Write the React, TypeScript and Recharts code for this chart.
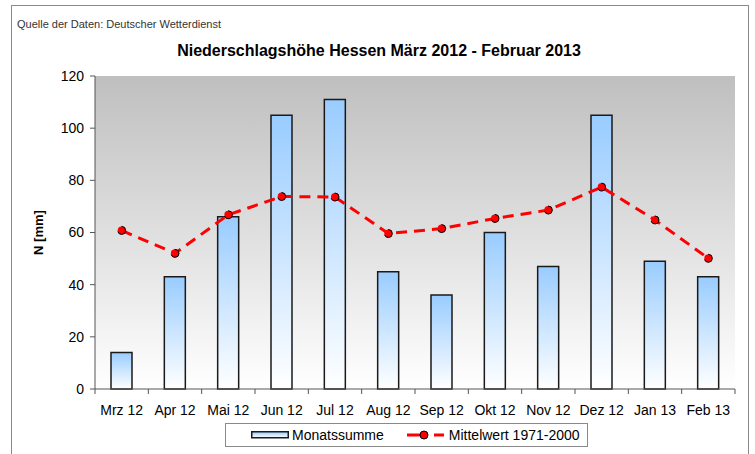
import React from "react";
import { ComposedChart, Bar, Line, XAxis, YAxis, CartesianGrid, Label } from "recharts";

const MONTHS = ["Mrz 12", "Apr 12", "Mai 12", "Jun 12", "Jul 12", "Aug 12", "Sep 12", "Okt 12", "Nov 12", "Dez 12", "Jan 13", "Feb 13"];
const MONATSSUMME = [14, 43, 66, 105, 111, 45, 36, 60, 47, 105, 49, 43];
const MITTELWERT = [60.8, 52, 66.8, 73.8, 73.6, 59.6, 61.5, 65.4, 68.6, 77.4, 64.8, 50.1];
const Y_TICKS = [0, 20, 40, 60, 80, 100, 120];

const data = MONTHS.map((m, i) => ({ month: m, summe: MONATSSUMME[i], mittel: MITTELWERT[i] }));

const FONT = "'Liberation Sans', Arial, sans-serif";

export default function App() {
  return (
    <div style={{ position: "absolute", left: 0, top: 0, width: 755, height: 454, overflow: "hidden", background: "#fff", fontFamily: FONT }}>
      {/* outer frame */}
      <div style={{ position: "absolute", left: 11, top: 5, width: 736, height: 470, border: "1px solid #8a8a8a" }} />
      <div style={{ position: "absolute", left: 17, top: 18, fontSize: 11, color: "#333" }}>Quelle der Daten: Deutscher Wetterdienst</div>
      <div style={{ position: "absolute", left: 0, width: 758, top: 42, textAlign: "center", fontSize: 16, fontWeight: "bold", color: "#000" }}>
        Niederschlagshöhe Hessen März 2012 - Februar 2013
      </div>
      <ComposedChart width={755} height={454} data={data} margin={{ top: 76, right: 20, left: 50, bottom: 35 }} style={{ position: "absolute", left: 0, top: 0 }}>
        <defs>
          <linearGradient id="plotBg" x1="0" y1="0" x2="0" y2="1">
            <stop offset="0%" stopColor="#bfbfbf" />
            <stop offset="100%" stopColor="#ffffff" />
          </linearGradient>
          <linearGradient id="barFill" x1="0" y1="0" x2="0" y2="1">
            <stop offset="0%" stopColor="#99ccff" />
            <stop offset="100%" stopColor="#ffffff" />
          </linearGradient>
        </defs>
        <CartesianGrid horizontal={false} vertical={false} fill="url(#plotBg)" />
        <XAxis xAxisId="top" orientation="top" dataKey="month" height={0} tick={false} tickLine={false} axisLine={{ stroke: "#b0b0b0" }} />
        <YAxis yAxisId="right" orientation="right" width={0} tick={false} tickLine={false} axisLine={{ stroke: "#b0b0b0" }} />
        <XAxis
          dataKey="month"
          height={30}
          interval={0}
          tick={{ fill: "#000", fontSize: 14, fontFamily: FONT }}
          tickLine={false}
          axisLine={{ stroke: "#555" }}
          tickMargin={10}
        />
        <YAxis
          domain={[0, 120]}
          ticks={Y_TICKS}
          width={45}
          interval={0}
          tick={{ fill: "#000", fontSize: 14, fontFamily: FONT }}
          tickLine={{ stroke: "#555" }}
          tickSize={5}
          tickMargin={6}
          axisLine={{ stroke: "#555" }}
        >
          <Label value="N [mm]" angle={-90} position="insideLeft" offset={-12} style={{ fontWeight: "bold", fontSize: 13, fill: "#000", fontFamily: FONT, textAnchor: "middle" }} />
        </YAxis>
        <Bar dataKey="summe" barSize={21} fill="url(#barFill)" stroke="#1a1a1a" strokeWidth={1.5} isAnimationActive={false} />
        <Line
          dataKey="mittel"
          stroke="#ff0000"
          strokeWidth={3}
          strokeDasharray="11 7"
          dot={{ r: 4, fill: "#ff0000", stroke: "#000", strokeWidth: 1 }}
          isAnimationActive={false}
        />
      </ComposedChart>
      {/* category separator ticks */}
      <svg width={755} height={454} style={{ position: "absolute", left: 0, top: 0, pointerEvents: "none" }}>
        {MONTHS.map((_, i) => {
          const x = 95 + ((735 - 95) / MONTHS.length) * (i + 1);
          return <line key={i} x1={x} x2={x} y1={389} y2={394} stroke="#555" />;
        })}
        <line x1={95} x2={95} y1={389} y2={394} stroke="#555" />
      </svg>
      {/* legend */}
      <div style={{ position: "absolute", left: 225, top: 423, width: 361, height: 22, border: "1px solid #8a8a8a", display: "flex", alignItems: "center", fontSize: 14, color: "#000" }}>
        <svg width={38} height={8} style={{ marginLeft: 25 }}>
          <defs>
            <linearGradient id="legBar" x1="0" y1="0" x2="0" y2="1">
              <stop offset="0%" stopColor="#99ccff" />
              <stop offset="100%" stopColor="#ffffff" />
            </linearGradient>
          </defs>
          <rect x={0.75} y={0.75} width={36.5} height={6} fill="url(#legBar)" stroke="#1a1a1a" strokeWidth={1.5} />
        </svg>
        <span style={{ marginLeft: 3 }}>Monatssumme</span>
        <svg width={40} height={10} style={{ marginLeft: 23 }}>
          <line x1={0} x2={20} y1={5} y2={5} stroke="#ff0000" strokeWidth={3} />
          <line x1={27} x2={37} y1={5} y2={5} stroke="#ff0000" strokeWidth={3} />
          <circle cx={17} cy={5} r={4} fill="#ff0000" stroke="#000" strokeWidth={1} />
        </svg>
        <span style={{ marginLeft: 2 }}>Mittelwert 1971-2000</span>
      </div>
    </div>
  );
}
